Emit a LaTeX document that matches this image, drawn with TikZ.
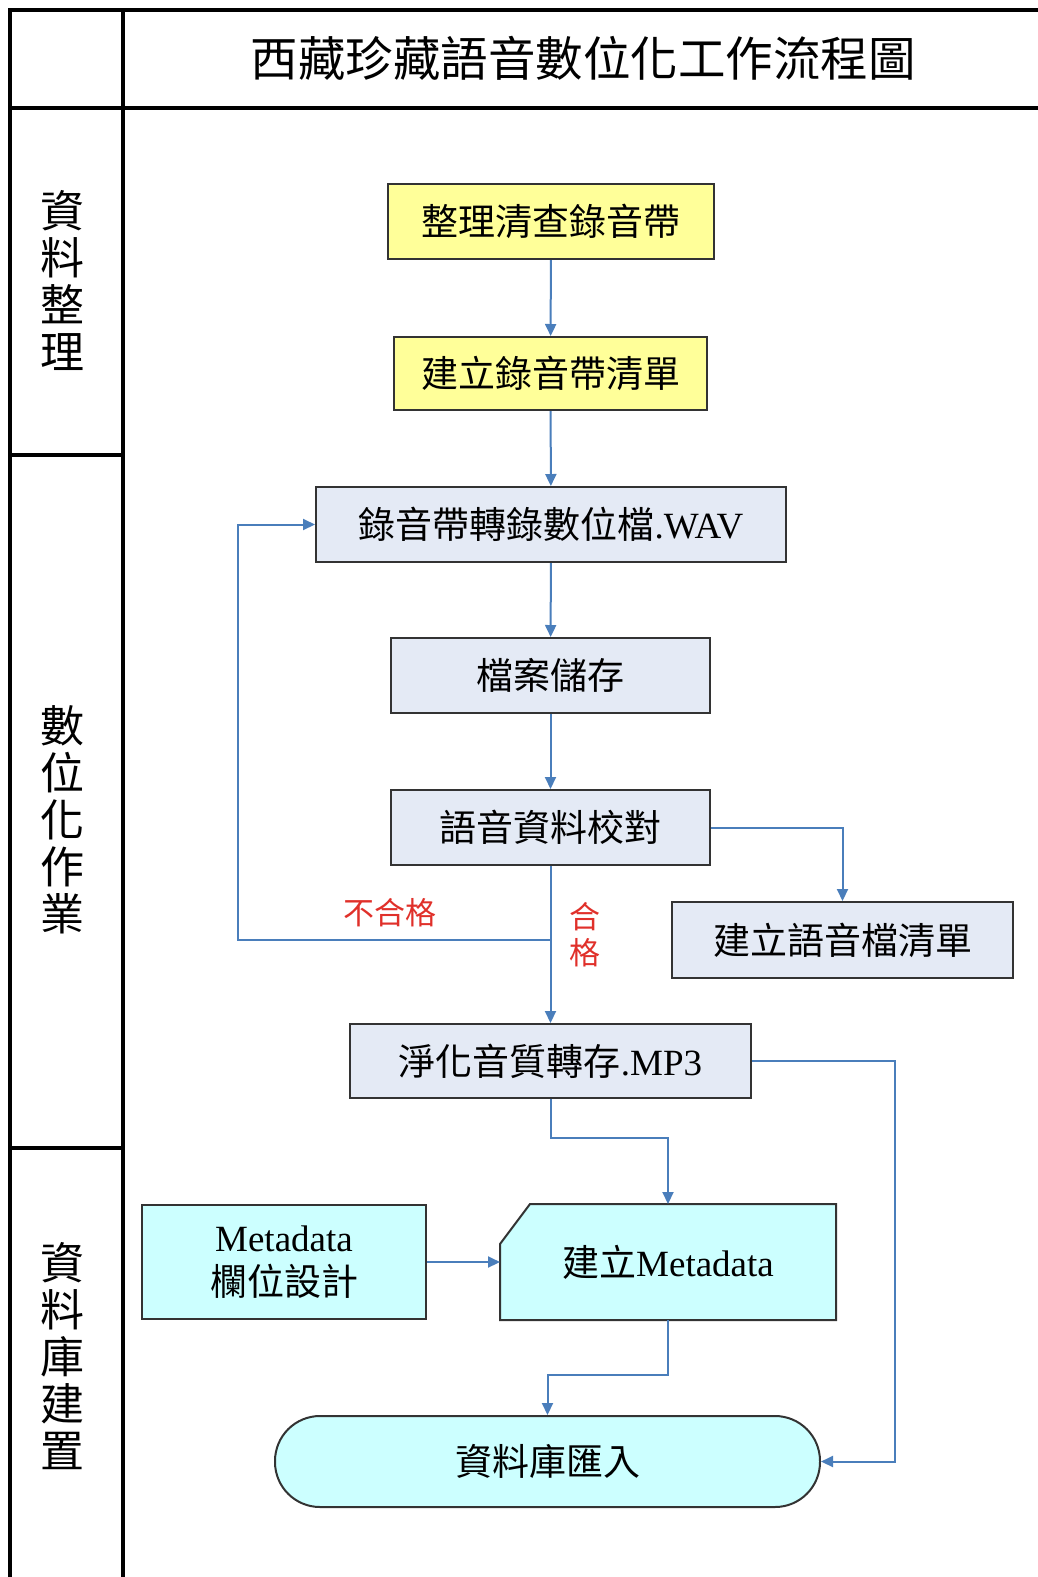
\documentclass[tikz,border=0pt]{standalone}
\usepackage{fontspec}
\setmainfont{Liberation Serif}
\newfontfamily\cjk{Noto Sans CJK TC}
\usetikzlibrary{arrows.meta}
\definecolor{flowblue}{HTML}{4A7EBB}
\definecolor{boxyellow}{HTML}{FFFF99}
\definecolor{boxgray}{HTML}{E4EAF5}
\definecolor{boxcyan}{HTML}{CCFFFF}
\definecolor{edgegray}{HTML}{333333}
\definecolor{labred}{HTML}{E0302A}
\tikzset{
  frameline/.style={line width=4pt, black},
  proc/.style={draw=edgegray, line width=2pt, font=\fontsize{37}{40}\selectfont, inner sep=0pt, align=center},
  ybox/.style={proc, fill=boxyellow},
  gbox/.style={proc, fill=boxgray},
  cbox/.style={proc, fill=boxcyan},
  flow/.style={draw=flowblue, line width=2pt, -{Triangle[length=12pt,width=11pt]}},
  lanelab/.style={font=\cjk\fontsize{44}{47}\selectfont, align=center, inner sep=0pt},
  redlab/.style={text=labred, font=\cjk\fontsize{31}{36}\selectfont, inner sep=0pt, align=center}
}
\begin{document}
\begin{tikzpicture}[x=1pt,y=1pt]
\useasboundingbox (0,0) rectangle (1038,-1577);
% frame
\draw[frameline] (10,-1577) -- (10,-10) -- (1038,-10);
\draw[frameline] (10,-108) -- (1038,-108);
\draw[frameline] (123,-10) -- (123,-1577);
\draw[frameline] (10,-455) -- (123,-455);
\draw[frameline] (10,-1148) -- (123,-1148);
% title
\node[font=\cjk\fontsize{47.5}{50}\selectfont, inner sep=0pt] (title) at (583,-58) {西藏珍藏語音數位化工作流程圖};
% lane labels
\node[lanelab] (lane1) at (62,-280) {資\\料\\整\\理};
\node[lanelab] (lane2) at (62,-820) {數\\位\\化\\作\\業};
\node[lanelab] (lane3) at (62,-1356) {資\\料\\庫\\建\\置};
% nodes
\node[ybox, minimum width=326pt, minimum height=75pt] (n1) at (551,-221.5) {\cjk 整理清查錄音帶};
\node[ybox, minimum width=313pt, minimum height=73pt] (n2) at (550.5,-373.5) {\cjk 建立錄音帶清單};
\node[gbox, minimum width=470pt, minimum height=75pt] (n3) at (551,-524.5) {{\cjk 錄音帶轉錄數位檔}.WAV};
\node[gbox, minimum width=319pt, minimum height=75pt] (n4) at (550.5,-675.5) {\cjk 檔案儲存};
\node[gbox, minimum width=319pt, minimum height=75pt] (n5) at (550.5,-827.5) {\cjk 語音資料校對};
\node[gbox, minimum width=341pt, minimum height=76pt] (n6) at (842.5,-940) {\cjk 建立語音檔清單};
\node[gbox, minimum width=401pt, minimum height=74pt] (n7) at (550.5,-1061) {{\cjk 淨化音質轉存}.MP3};
\node[cbox, minimum width=284pt, minimum height=114pt] (n8) at (284,-1262) {Metadata\\[4pt]{\cjk 欄位設計}};
\node[proc, draw=none, minimum width=334pt, minimum height=114pt] (n9) at (668,-1262) {};
\draw[draw=edgegray, line width=2pt, fill=boxcyan]
  ([xshift=30pt]n9.north west) -- (n9.north east) -- (n9.south east) -- (n9.south west) -- ([yshift=-40pt]n9.north west) -- cycle;
\node[font=\fontsize{37}{40}\selectfont, inner sep=0pt] (n9t) at (n9.center) {{\cjk 建立}Metadata};
\node[cbox, minimum width=545pt, minimum height=91pt, rounded corners=45pt] (n10) at (547.5,-1461.5) {\cjk 資料庫匯入};
% connectors
\draw[flow] (n1) -- (n2);
\draw[flow] (n2) -- (n3);
\draw[flow] (n3) -- (n4);
\draw[flow] (n4) -- (n5);
\draw[flow] (n5.east) -| (n6.north);
\draw[flow] (n5) -- (n7);
\coordinate (br) at (550.5,-940);
\coordinate (lp) at (238,-940);
\draw[flow] (br) -- (lp) |- (n3.west);
\draw[flow] (n7.south) -- ++(0,-39) -| (n9.north);
\coordinate (rr) at (895,-1061);
\draw[flow] (n7.east) -- (rr) |- (n10.east);
\draw[flow] (n8.east) -- (n9.west);
\draw[flow] (n9.south) -- ++(0,-55) -| (n10.north);
% labels
\node[redlab] (fail) at (390,-913) {不合格};
\node[redlab] (pass) at (585,-935) {合\\格};
\end{tikzpicture}
\end{document}
